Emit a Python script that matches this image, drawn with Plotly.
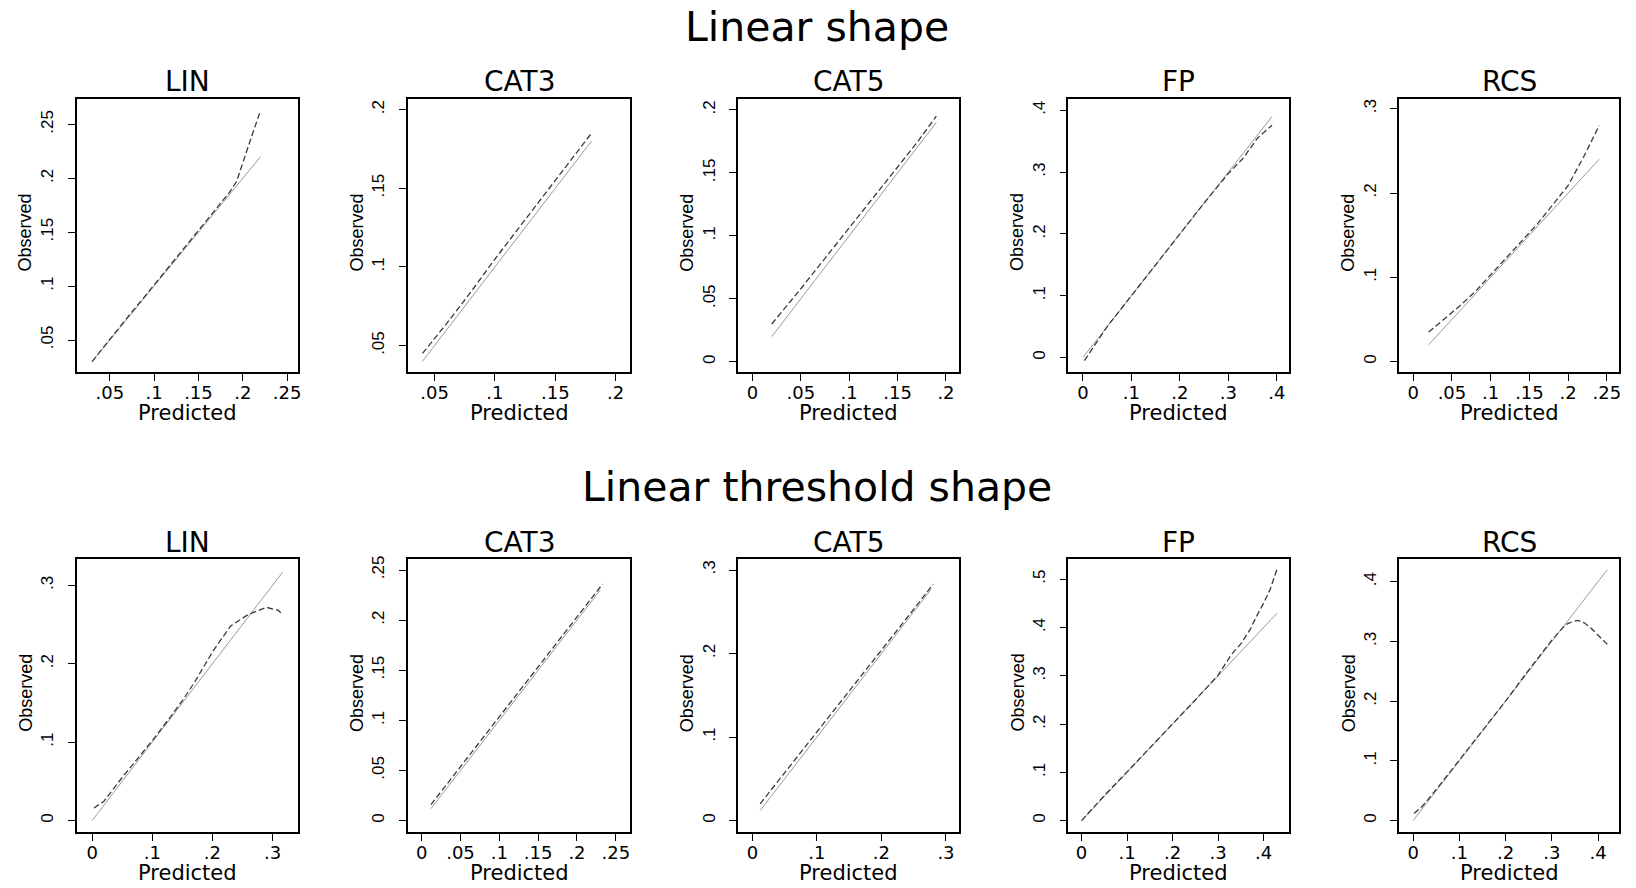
import plotly.graph_objects as go

# ---------------- data ----------------
panel_names = ["LIN", "CAT3", "CAT5", "FP", "RCS"]
row_titles = ["Linear shape", "Linear threshold shape"]

# reference (perfect calibration) line extents: [min predicted, max predicted]
diag_top = [[0.03, 0.22], [0.04, 0.18], [0.02, 0.19], [0.0, 0.39], [0.02, 0.24]]
diag_bot = [[0.0, 0.317], [0.012, 0.23], [0.012, 0.277], [0.0, 0.43], [0.0, 0.42]]

# observed vs predicted curves, top row (Linear shape)
lin_top_x = [0.03, 0.05, 0.07, 0.09, 0.11, 0.13, 0.15, 0.17, 0.185, 0.193, 0.20, 0.21, 0.22]
lin_top_y = [0.03, 0.051, 0.071, 0.091, 0.111, 0.131, 0.151, 0.171, 0.187, 0.197, 0.215, 0.239, 0.263]
cat3_top_x = [0.04, 0.06, 0.08, 0.10, 0.12, 0.14, 0.16, 0.18]
cat3_top_y = [0.045, 0.064, 0.084, 0.105, 0.125, 0.145, 0.165, 0.185]
cat5_top_x = [0.02, 0.05, 0.08, 0.11, 0.14, 0.17, 0.19]
cat5_top_y = [0.03, 0.058, 0.087, 0.116, 0.145, 0.174, 0.195]
fp_top_x = [0.003, 0.05, 0.10, 0.15, 0.20, 0.25, 0.30, 0.33, 0.36, 0.39]
fp_top_y = [-0.005, 0.05, 0.10, 0.15, 0.201, 0.25, 0.298, 0.322, 0.355, 0.376]
rcs_top_x = [0.02, 0.04, 0.06, 0.08, 0.10, 0.12, 0.14, 0.16, 0.18, 0.20, 0.22, 0.24]
rcs_top_y = [0.035, 0.05, 0.066, 0.083, 0.103, 0.122, 0.142, 0.163, 0.186, 0.209, 0.243, 0.28]

# bottom row (Linear threshold shape)
lin_bot_x = [0.003, 0.02, 0.05, 0.08, 0.10, 0.13, 0.15, 0.17, 0.20, 0.23, 0.26, 0.29, 0.31, 0.317]
lin_bot_y = [0.016, 0.025, 0.055, 0.083, 0.102, 0.132, 0.153, 0.176, 0.215, 0.248, 0.263, 0.272, 0.268, 0.262]
cat3_bot_x = [0.012, 0.05, 0.10, 0.15, 0.20, 0.233]
cat3_bot_y = [0.016, 0.054, 0.104, 0.154, 0.204, 0.236]
cat5_bot_x = [0.012, 0.05, 0.10, 0.15, 0.20, 0.25, 0.28]
cat5_bot_y = [0.02, 0.057, 0.106, 0.155, 0.204, 0.253, 0.283]
fp_bot_x = [0.0, 0.05, 0.10, 0.15, 0.20, 0.25, 0.30, 0.33, 0.35, 0.37, 0.385, 0.40, 0.415, 0.43]
fp_bot_y = [0.0, 0.052, 0.101, 0.15, 0.20, 0.25, 0.301, 0.345, 0.366, 0.395, 0.424, 0.45, 0.48, 0.522]
rcs_bot_x = [0.002, 0.02, 0.05, 0.10, 0.15, 0.20, 0.25, 0.30, 0.33, 0.345, 0.356, 0.37, 0.385, 0.40, 0.42]
rcs_bot_y = [0.012, 0.024, 0.052, 0.101, 0.151, 0.20, 0.252, 0.302, 0.328, 0.333, 0.335, 0.331, 0.322, 0.31, 0.295]

obs_top = [(lin_top_x, lin_top_y), (cat3_top_x, cat3_top_y), (cat5_top_x, cat5_top_y),
           (fp_top_x, fp_top_y), (rcs_top_x, rcs_top_y)]
obs_bot = [(lin_bot_x, lin_bot_y), (cat3_bot_x, cat3_bot_y), (cat5_bot_x, cat5_bot_y),
           (fp_bot_x, fp_bot_y), (rcs_bot_x, rcs_bot_y)]

# tick values
xt_top = [[.05, .1, .15, .2, .25], [.05, .1, .15, .2], [0, .05, .1, .15, .2], [0, .1, .2, .3, .4], [0, .05, .1, .15, .2, .25]]
yt_top = [[.05, .1, .15, .2, .25], [.05, .1, .15, .2], [0, .05, .1, .15, .2], [0, .1, .2, .3, .4], [0, .1, .2, .3]]
xt_bot = [[0, .1, .2, .3], [0, .05, .1, .15, .2, .25], [0, .1, .2, .3], [0, .1, .2, .3, .4], [0, .1, .2, .3, .4]]
yt_bot = [[0, .1, .2, .3], [0, .05, .1, .15, .2, .25], [0, .1, .2, .3], [0, .1, .2, .3, .4, .5], [0, .1, .2, .3, .4]]

# axis ranges
xr_top = [[0.0128, 0.262], [0.028, 0.212], [-0.0147, 0.2138], [-0.030, 0.424], [-0.018, 0.266]]
yr_top = [[0.020, 0.274], [0.033, 0.207], [-0.0084, 0.209], [-0.024, 0.419], [-0.0127, 0.312]]
xr_bot = [[-0.0255, 0.342], [-0.0176, 0.2685], [-0.022, 0.3207], [-0.029, 0.455], [-0.030, 0.446]]
yr_bot = [[-0.0149, 0.333], [-0.0116, 0.2605], [-0.014, 0.3126], [-0.024, 0.541], [-0.0195, 0.437]]

# ---------------- layout geometry (pixels) ----------------
W, H = 1636, 888
col_px = [(77, 298.5), (409, 631.7), (740, 961.7), (1071, 1291.7), (1402.7, 1623.3)]
row_px = [(95, 370), (558, 832)]

FONT_H = "DejaVu Sans"
FONT_V = "Liberation Sans"


def fmt(v):
    if v == 0:
        return "0"
    s = f"{v:g}"
    return s.replace("0.", ".", 1) if s.startswith("0.") else s


fig = go.Figure()
annotations = []

for r in range(2):
    diags = diag_top if r == 0 else diag_bot
    obs = obs_top if r == 0 else obs_bot
    xts = xt_top if r == 0 else xt_bot
    yts = yt_top if r == 0 else yt_bot
    xrs = xr_top if r == 0 else xr_bot
    yrs = yr_top if r == 0 else yr_bot
    y0px, y1px = row_px[r]
    for c in range(5):
        k = r * 5 + c + 1
        xa = "x" if k == 1 else f"x{k}"
        ya = "y" if k == 1 else f"y{k}"
        # reference line
        fig.add_trace(go.Scatter(x=diags[c], y=diags[c], xaxis=xa, yaxis=ya, mode="lines",
                                 line=dict(color="#9a9a9a", width=1), showlegend=False, hoverinfo="skip"))
        # observed curve
        fig.add_trace(go.Scatter(x=obs[c][0], y=obs[c][1], xaxis=xa, yaxis=ya, mode="lines",
                                 line=dict(color="#3a3a3a", width=1.3, dash="6px,3px"),
                                 showlegend=False, hoverinfo="skip"))
        x0px, x1px = col_px[c]
        common = dict(showline=True, linecolor="black", linewidth=1.6, mirror=True,
                      ticks="outside", ticklen=7, tickwidth=1.3, tickcolor="black",
                      showgrid=False, zeroline=False, fixedrange=True)
        fig.layout[("xaxis" if k == 1 else f"xaxis{k}")] = dict(
            domain=[x0px / W, x1px / W], anchor=ya, range=xrs[c],
            tickvals=xts[c], ticktext=[fmt(v) for v in xts[c]], ticklabelstandoff=-4,
            tickfont=dict(family=FONT_H, size=18, color="black"), **common)
        fig.layout[("yaxis" if k == 1 else f"yaxis{k}")] = dict(
            domain=[1 - y1px / H, 1 - y0px / H], anchor=xa, range=yrs[c],
            tickvals=yts[c], ticktext=[fmt(v) for v in yts[c]], tickangle=-90,
            ticklabelstandoff=8,
            tickfont=dict(family=FONT_V, size=17, color="black"), **common)
        cx = (x0px + x1px) / 2
        # panel title
        annotations.append(dict(text=panel_names[c], x=cx / W, y=1 - (y0px - 17) / H,
                                xref="paper", yref="paper", showarrow=False,
                                font=dict(family=FONT_H, size=28, color="black"),
                                xanchor="center", yanchor="middle"))
        # x title
        annotations.append(dict(text="Predicted", x=cx / W, y=1 - (y1px + 41) / H,
                                xref="paper", yref="paper", showarrow=False,
                                font=dict(family=FONT_H, size=21, color="black"),
                                xanchor="center", yanchor="middle"))
        # y title
        annotations.append(dict(text="Observed", x=(x0px - 51) / W, y=1 - ((y0px + y1px) / 2 - 3) / H,
                                xref="paper", yref="paper", showarrow=False, textangle=-90,
                                font=dict(family=FONT_V, size=18, color="black"),
                                xanchor="center", yanchor="middle"))

# row titles
annotations.append(dict(text=row_titles[0], x=819 / W, y=1 - 23 / H, xref="paper", yref="paper",
                        showarrow=False, font=dict(family=FONT_H, size=41, color="black"),
                        xanchor="center", yanchor="middle"))
annotations.append(dict(text=row_titles[1], x=819 / W, y=1 - 485 / H, xref="paper", yref="paper",
                        showarrow=False, font=dict(family=FONT_H, size=41, color="black"),
                        xanchor="center", yanchor="middle"))

fig.update_layout(width=W, height=H, margin=dict(l=0, r=0, t=0, b=0),
                  paper_bgcolor="white", plot_bgcolor="white",
                  annotations=annotations, showlegend=False)

fig.write_html("out.html", config={"displayModeBar": False},
               post_script="document.body.style.margin='0px';document.body.style.overflow='hidden';")
